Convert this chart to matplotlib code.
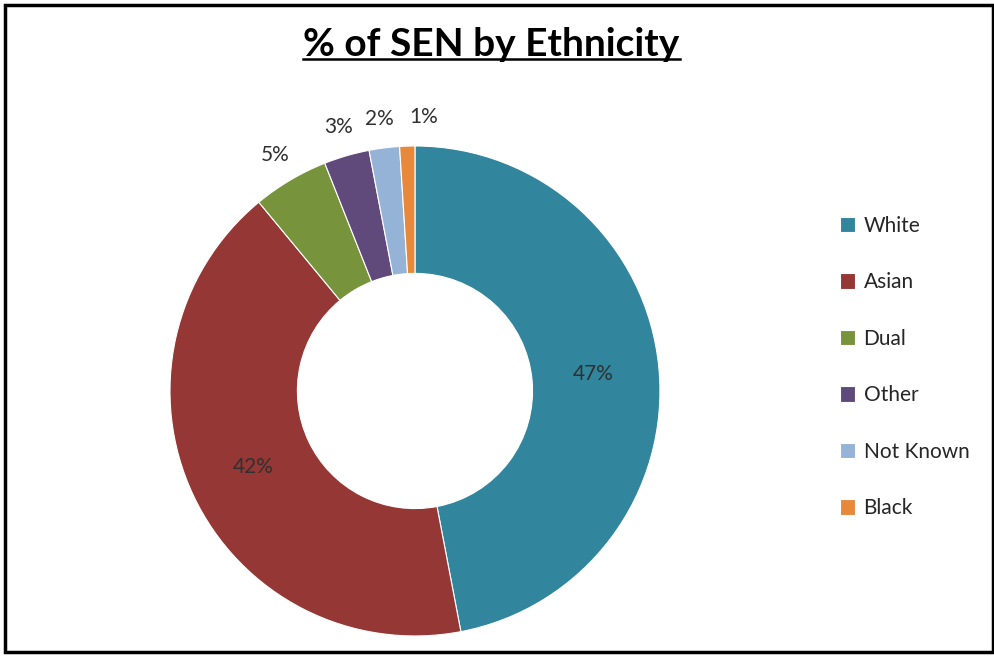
import numpy as np
import matplotlib.pyplot as plt
from matplotlib.patches import Rectangle
from matplotlib.lines import Line2D

plt.rcParams['font.family'] = ['Lato', 'DejaVu Sans']

# data
categories = ['White', 'Asian', 'Dual', 'Other', 'Not Known', 'Black']
shares = [47, 42, 5, 3, 2, 1]
colors = ['#31859C', '#953735', '#77933C', '#604A7B', '#95B3D7', '#E8883A']

fig = plt.figure(figsize=(9.95, 6.57), dpi=100)

# outer frame
fig.patches.append(Rectangle((0.005, 0.008), 0.993, 0.985, transform=fig.transFigure,
                             fill=False, edgecolor='black', linewidth=2.5))

# title with underline
t = fig.text(0.494, 0.933, '% of SEN by Ethnicity', ha='center', va='center',
             fontsize=28, fontweight='bold', color='black')
fig.canvas.draw()
bb = t.get_window_extent().transformed(fig.transFigure.inverted())
fig.lines.append(Line2D([bb.x0, bb.x1], [bb.y0 + 0.004, bb.y0 + 0.004],
                        transform=fig.transFigure, color='black', linewidth=1.8))

# donut
ax = fig.add_axes([0.1658, 0.0244, 0.5025, 0.761])
R = 0.98
wedges, _ = ax.pie(shares, colors=colors, startangle=90, counterclock=False,
                   radius=R, wedgeprops=dict(width=R * 0.52, edgecolor='white', linewidth=0.8))
ax.set_xlim(-1, 1)
ax.set_ylim(-1, 1)
ax.set_aspect('equal')
ax.axis('off')

# small nudges so the outside labels don't collide
nudge = {'Not Known': -0.005, 'Black': 0.07}
for w, v, name in zip(wedges, shares, categories):
    ang = np.deg2rad((w.theta1 + w.theta2) / 2)
    if v >= 10:
        r = R * 0.73
    else:
        r = R * 1.12
    ax.text(r * np.cos(ang) + nudge.get(name, 0), r * np.sin(ang), f'{v}%',
            ha='center', va='center', fontsize=15, color='#303030')

# legend
leg = fig.legend(wedges, categories, loc='upper left', bbox_to_anchor=(0.825, 0.7),
                 frameon=False, fontsize=15, handlelength=0.75, handleheight=0.75,
                 handletextpad=0.4, labelspacing=1.75)
for txt in leg.get_texts():
    txt.set_color('#262626')

plt.savefig('out.png', dpi=100)
